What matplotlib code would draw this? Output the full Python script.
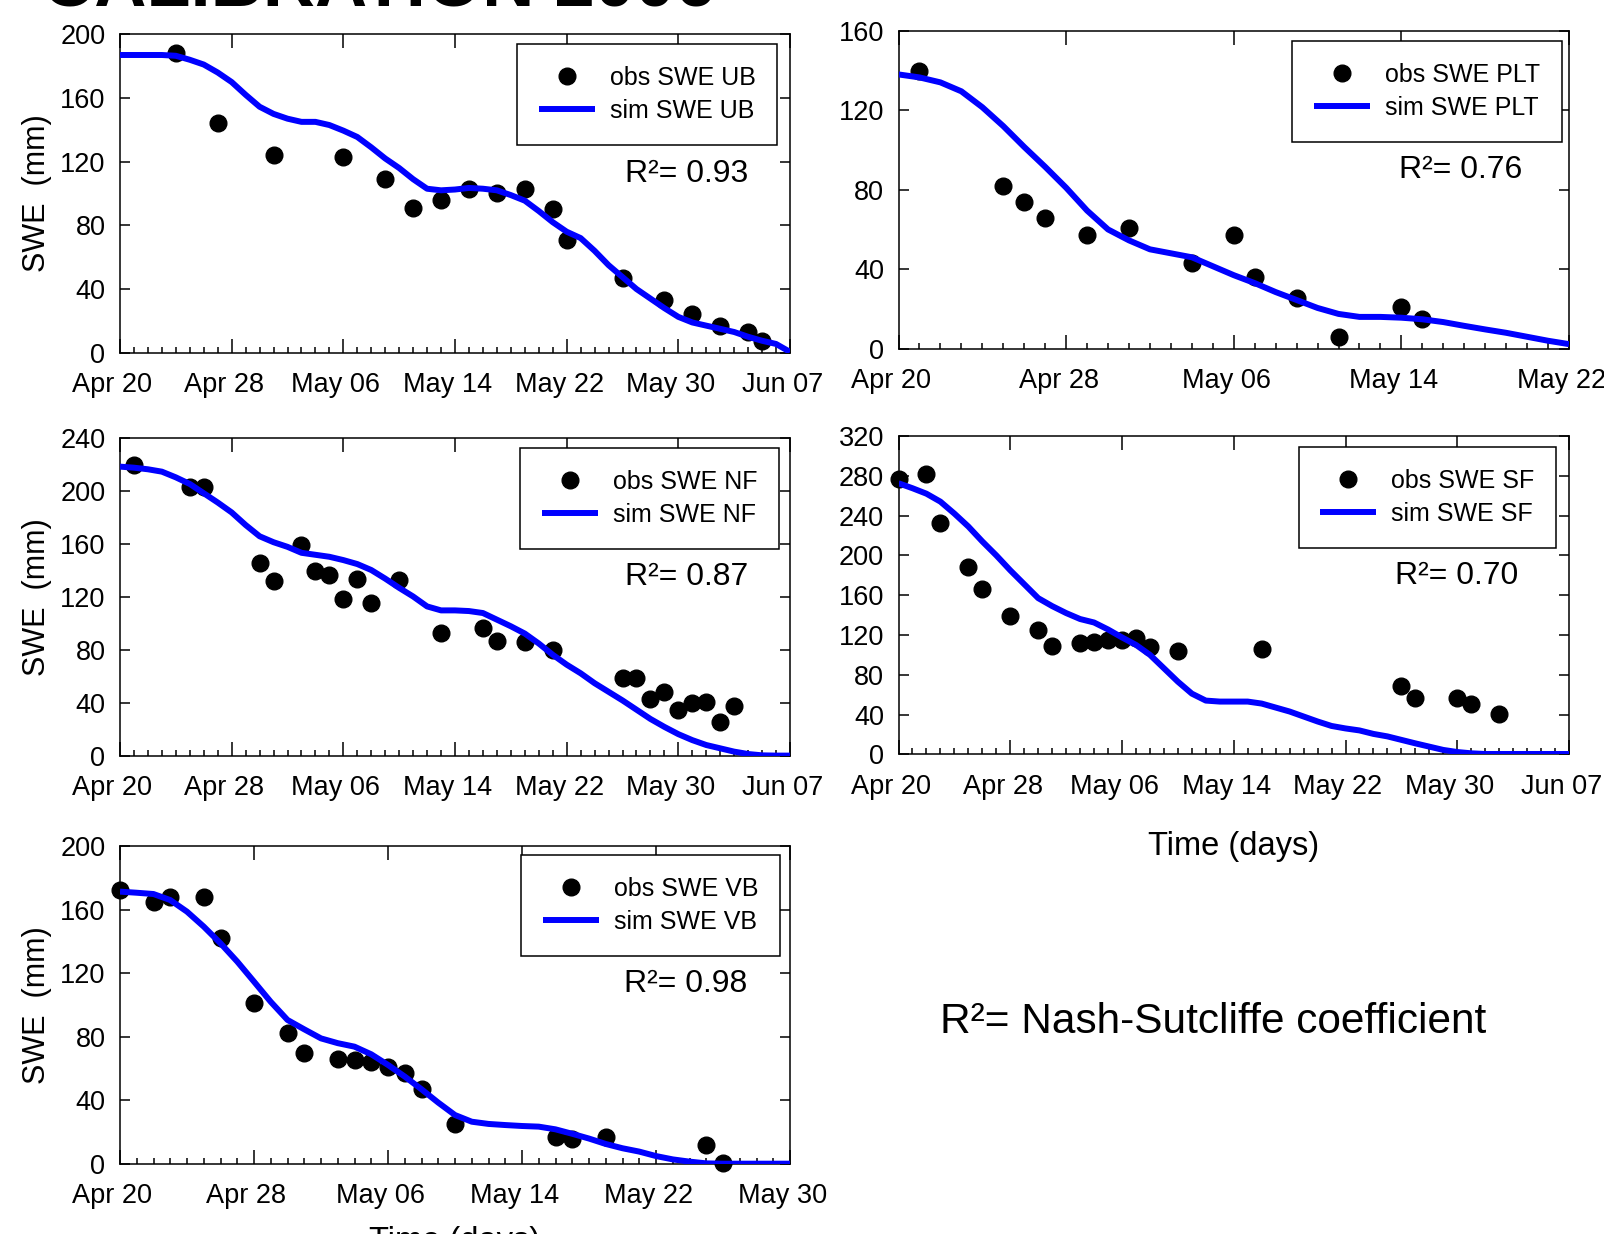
import matplotlib
matplotlib.use("Agg")
import matplotlib.pyplot as plt
import numpy as np
from matplotlib.ticker import MultipleLocator, FixedLocator, NullLocator
from matplotlib.transforms import ScaledTranslation

# ---------------- data (days after Apr 20) ----------------
date_labels = ["Apr 20", "Apr 28", "May 06", "May 14", "May 22", "May 30", "Jun 07"]

ub_obs_day = [4, 7, 11, 16, 19, 21, 23, 25, 27, 29, 31, 32, 36, 39, 41, 43, 45, 46]
ub_obs = [188, 144, 124, 123, 109, 91, 96, 103, 100, 103, 90, 71, 47, 33, 24, 17, 13, 7.5]
ub_sim = [187, 187, 187, 187, 186.5, 184, 181, 176, 170, 162, 154.5, 150, 147, 145, 145,
          143, 139.5, 135.5, 129, 122, 116, 109, 103, 102, 102.5, 103.5, 103, 102, 99,
          95.5, 89, 82, 76, 72, 64, 55, 47.5, 40, 34, 28, 22.5, 19, 17, 15, 13, 10, 7.5,
          5.5, 0.5]

plt_obs_day = [1, 5, 6, 7, 9, 11, 14, 16, 17, 19, 21, 24, 25]
plt_obs = [139.7, 82, 74, 66, 57, 60.5, 43, 57, 36, 25.7, 6, 21, 15]
plt_sim = [138, 136.5, 134, 129.5, 121.5, 112, 101.5, 91.5, 81, 69.5, 60, 54.5, 50, 48,
           46, 41.5, 37, 33, 28.5, 24.5, 20.5, 17.5, 16, 16, 15.6, 14.8, 13.4, 11.5, 9.7,
           8, 6, 4, 2.3]

nf_obs_day = [1, 5, 6, 10, 11, 13, 14, 15, 16, 17, 18, 20, 23, 26, 27, 29, 31, 36, 37,
              38, 39, 40, 41, 42, 43, 44]
nf_obs = [220, 203, 203, 145.5, 132.5, 159.5, 140, 137, 118.5, 134, 115.5, 133, 93, 97,
          87, 86, 80, 59, 59, 43, 48.5, 34.5, 40, 41, 26, 38]
nf_sim = [218.6, 217.8, 216.6, 214.8, 210.5, 205.5, 198.5, 191.5, 184, 174.5, 166, 161.5,
          158, 153.5, 152, 150.5, 148, 145, 140.5, 134, 127, 120.5, 113, 110, 110, 109.5,
          108, 103, 98, 92.5, 85, 76.5, 69, 62.5, 55, 48.5, 42, 35, 28, 22, 16.5, 12, 8.3,
          5.8, 3.3, 1.5, 0.5, 0.3, 0.3]

sf_obs_day = [0, 2, 3, 5, 6, 8, 10, 11, 13, 14, 15, 16, 17, 18, 20, 26, 36, 37, 40, 41, 43]
sf_obs = [276.5, 281.5, 233, 188.5, 166, 139, 125, 109, 111.5, 113, 114.5, 114.5, 116.5,
          107.5, 104, 105.5, 69, 56.5, 56.5, 50.5, 40.5]
sf_sim = [272.5, 267.5, 262, 254, 242, 229, 214, 200, 185, 171, 157, 149, 142, 136, 132.5,
          125.5, 117.5, 110, 100, 86.5, 73, 61, 54, 53, 53, 53, 51, 47, 43, 38, 33, 28.5,
          26, 24, 20.5, 18, 14.5, 11, 7.7, 4.4, 2.3, 1, 0.3, 0.3, 0.3, 0.3, 0.3, 0.3, 0.3]

vb_obs_day = [0, 2, 3, 5, 6, 8, 10, 11, 13, 14, 15, 16, 17, 18, 20, 26, 27, 29, 35, 36]
vb_obs = [172.5, 164.5, 168, 168, 142, 101, 82.5, 70, 66, 65.5, 64, 61, 57.5, 47, 25, 17,
          16, 17, 12, 0.5]
vb_sim = [171.3, 170.6, 169.8, 166, 158.7, 149.3, 138.8, 127.3, 114.7, 102, 90.6, 84.7, 79,
          76, 73.8, 69, 62.3, 55, 47, 38.6, 30.8, 26.6, 25.2, 24.5, 23.9, 23.5, 21.8, 19,
          16, 12.6, 9.9, 7.8, 5, 2.9, 1.5, 0.4, 0.2, 0.2, 0.2, 0.2, 0.2]

stations = ["UB", "PLT", "NF", "SF", "VB"]
nse = ["0.93", "0.76", "0.87", "0.70", "0.98"]
y_max = [200, 160, 240, 320, 200]
n_date_ticks = [7, 5, 7, 7, 6]

# ---------------- styling / layout ----------------
plt.rcParams["font.family"] = ["Liberation Sans", "DejaVu Sans"]
W, H = 1604, 1234
fig = plt.figure(figsize=(W / 100, H / 100), dpi=100)

# pixel boxes (left, top, right, bottom)
boxes = [(120, 34.3, 790, 352.7), (898.5, 30.7, 1569, 348.7),
         (120, 438.3, 790, 756.0), (898.5, 436.0, 1569, 754.3),
         (120, 846.0, 790, 1164.0)]
r2_pos = [(0.846, 0.561), (0.839, 0.563), (0.846, 0.563), (0.833, 0.560), (0.844, 0.566)]
leg_anchor = [(0.981, 0.970), (0.9896, 0.968), (0.984, 0.969), (0.981, 0.965), (0.985, 0.971)]
ylabel_on = [True, False, True, False, True]
xlabel_y = [None, None, None, -0.316, -0.270]

obs_days = [ub_obs_day, plt_obs_day, nf_obs_day, sf_obs_day, vb_obs_day]
obs_vals = [ub_obs, plt_obs, nf_obs, sf_obs, vb_obs]
sim_vals = [ub_sim, plt_sim, nf_sim, sf_sim, vb_sim]

BLUE = "#0000ff"
LW_AX = 1.1
shift = ScaledTranslation(-7.5 / 100, 0, fig.dpi_scale_trans)

for i in range(5):
    l, t, r, b = boxes[i]
    ax = fig.add_axes([l / W, 1 - b / H, (r - l) / W, (b - t) / H])
    ax.plot(obs_days[i], obs_vals[i], "o", color="black", ms=12, clip_on=False,
            zorder=3, label="obs SWE " + stations[i])
    ax.plot(np.arange(len(sim_vals[i])), sim_vals[i], color=BLUE, lw=4.3, zorder=4,
            solid_capstyle="butt", label="sim SWE " + stations[i])

    nt = n_date_ticks[i]
    ax.set_xlim(0, 8 * (nt - 1))
    ax.set_ylim(0, y_max[i])
    ax.xaxis.set_major_locator(FixedLocator([8 * k for k in range(nt)]))
    ax.set_xticklabels(date_labels[:nt])
    ax.xaxis.set_minor_locator(MultipleLocator(1))
    ax.yaxis.set_major_locator(MultipleLocator(40))
    ax.yaxis.set_minor_locator(NullLocator())

    ax.tick_params(axis="x", which="major", direction="in", length=10, width=LW_AX,
                   top=True, bottom=True, labelsize=19.5, pad=14)
    ax.tick_params(axis="x", which="minor", direction="in", length=4.3, width=LW_AX,
                   top=False, bottom=True)
    ax.tick_params(axis="y", which="major", direction="in", length=7, width=LW_AX,
                   left=True, right=True, labelsize=19.5, pad=10.5)
    for s in ax.spines.values():
        s.set_linewidth(LW_AX)
    for lbl in ax.get_xticklabels():
        lbl.set_transform(lbl.get_transform() + shift)

    leg = ax.legend(loc="upper right", bbox_to_anchor=leg_anchor[i], borderaxespad=0,
                    fontsize=18, frameon=True, fancybox=False, edgecolor="black",
                    framealpha=1, borderpad=0.87, labelspacing=0.37, handlelength=2.24,
                    handletextpad=0.6, numpoints=1)
    leg.get_frame().set_linewidth(LW_AX)

    ax.text(r2_pos[i][0], r2_pos[i][1], "R\u00b2= " + nse[i], transform=ax.transAxes,
            ha="center", va="center", fontsize=23)

    if ylabel_on[i]:
        ax.set_ylabel("SWE  (mm)", fontsize=22)
        ax.yaxis.set_label_coords(-83 / (r - l), 0.5)
        ax.yaxis.label.set_va("center")
        ax.yaxis.label.set_ha("center")
    if xlabel_y[i] is not None:
        ax.set_xlabel("Time (days)", fontsize=23.5)
        ax.xaxis.set_label_coords(0.5, xlabel_y[i])
        ax.xaxis.label.set_va("baseline")

fig.text(42 / W, 1 - 5 / H, "CALIBRATION 2006", fontsize=52, fontweight="bold",
         ha="left", va="baseline")
fig.text(940 / W, 1 - 1033 / H, "R\u00b2= Nash-Sutcliffe coefficient", fontsize=30.5,
         ha="left", va="baseline")

fig.savefig("out.png", dpi=100)
